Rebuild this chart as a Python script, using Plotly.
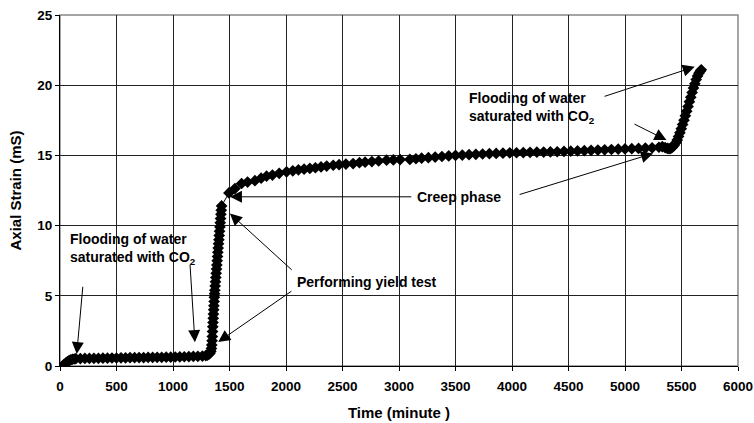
import plotly.graph_objects as go

# Time (minute) and Axial strain (mS)
time_min = [
    20, 35, 50, 65, 80, 95, 110, 125,
    140, 180, 220, 260, 300, 340, 380, 420, 460, 500, 540, 580, 620, 660, 700,
    740, 780, 820, 860, 900, 940, 980, 1020, 1060, 1100, 1140, 1180, 1220, 1260,
    1290, 1305, 1318, 1328, 1335, 1340, 1343, 1346, 1348, 1350, 1352, 1354, 1356,
    1358, 1360, 1362, 1364, 1366, 1368, 1370, 1373, 1376, 1379, 1382, 1385, 1388,
    1391, 1394, 1397, 1400, 1403, 1406, 1409, 1412, 1415, 1418, 1421, 1424, 1427,
    1430,
    1495, 1548, 1607, 1660, 1725, 1780, 1828, 1880, 1940, 2005, 2060, 2110, 2160,
    2211, 2260, 2310, 2360, 2418, 2470, 2530, 2594, 2650, 2700, 2760, 2820, 2890,
    2950, 3010, 3096, 3150, 3200, 3260, 3320, 3380, 3440, 3500, 3560, 3620, 3680,
    3740, 3800, 3860, 3920, 3980, 4040, 4100, 4160, 4220, 4280, 4340, 4400, 4460,
    4520, 4580, 4640, 4700, 4760, 4820, 4880, 4940, 5000, 5060, 5120, 5180, 5240,
    5300, 5330, 5355, 5375, 5390, 5405, 5420, 5435, 5450, 5462, 5474, 5486, 5498,
    5510, 5522, 5534, 5546, 5558, 5570, 5582, 5594, 5606, 5618, 5630, 5642, 5654,
    5666, 5675,
]
strain_mS = [
    0.00, 0.10, 0.20, 0.30, 0.38, 0.44, 0.48, 0.50,
    0.52, 0.53, 0.54, 0.54, 0.55, 0.55, 0.56, 0.56, 0.57, 0.57, 0.58, 0.58, 0.59, 0.59, 0.60,
    0.60, 0.61, 0.61, 0.62, 0.62, 0.63, 0.63, 0.64, 0.65, 0.66, 0.67, 0.68, 0.69, 0.71,
    0.74, 0.78, 0.84, 0.92, 1.05, 1.25, 1.50, 1.80, 2.10, 2.45, 2.80, 3.10, 3.40,
    3.70, 4.00, 4.30, 4.60, 4.90, 5.15, 5.40, 5.70, 6.00, 6.30, 6.60, 6.90, 7.20,
    7.50, 7.80, 8.10, 8.40, 8.70, 9.00, 9.30, 9.60, 9.90, 10.20, 10.50, 10.80, 11.10,
    11.40,
    12.33, 12.64, 13.00, 13.10, 13.20, 13.38, 13.52, 13.60, 13.72, 13.83, 13.90, 13.97, 14.02,
    14.07, 14.12, 14.18, 14.24, 14.30, 14.34, 14.38, 14.42, 14.48, 14.52, 14.56, 14.60, 14.66,
    14.68, 14.70, 14.71, 14.76, 14.80, 14.84, 14.88, 14.92, 14.96, 15.00, 15.02, 15.05, 15.08,
    15.10, 15.12, 15.14, 15.16, 15.18, 15.19, 15.20, 15.22, 15.23, 15.24, 15.25, 15.26, 15.28,
    15.30, 15.32, 15.34, 15.36, 15.38, 15.40, 15.42, 15.44, 15.46, 15.48, 15.50, 15.52, 15.54,
    15.58, 15.62, 15.56, 15.50, 15.48, 15.50, 15.58, 15.72, 15.90, 16.10, 16.35, 16.62, 16.90,
    17.20, 17.50, 17.82, 18.15, 18.48, 18.82, 19.15, 19.48, 19.80, 20.10, 20.40, 20.65, 20.85,
    21.00, 21.10,
]

x_ticks = [0, 500, 1000, 1500, 2000, 2500, 3000, 3500, 4000, 4500, 5000, 5500, 6000]
y_ticks = [0, 5, 10, 15, 20, 25]

FONT = "Liberation Sans"

fig = go.Figure()
fig.add_trace(go.Scatter(
    x=time_min, y=strain_mS, mode="lines+markers",
    line=dict(color="black", width=1),
    marker=dict(symbol="diamond", size=9, color="black"),
    showlegend=False, hoverinfo="skip",
))

# text labels
labels = [
    dict(x=75, y=8.32, text="<b>Flooding of water<br>saturated with CO<sub>2</sub></b>"),
    dict(x=2080, y=5.99, text="<b>Performing yield test</b>"),
    dict(x=3140, y=12.02, text="<b>Creep phase</b>"),
    dict(x=3600, y=18.36, text="<b>Flooding of water<br>saturated with CO<sub>2</sub></b>"),
]
for lb in labels:
    fig.add_annotation(x=lb["x"], y=lb["y"], text=lb["text"], showarrow=False,
                       xanchor="left", yanchor="middle", align="left",
                       font=dict(family=FONT, size=14, color="black"))

# arrows: (tail_x, tail_y, tip_x, tip_y)
arrows = [
    (203, 5.75, 148, 0.85),
    (1150, 7.32, 1194, 1.70),
    (2064, 6.75, 1504, 10.86),
    (2061, 5.40, 1400, 1.71),
    (3122, 12.05, 1504, 12.05),
    (4054, 12.18, 5248, 15.14),
    (4806, 19.17, 5617, 21.31),
    (5071, 17.28, 5367, 16.09),
]
for tx, ty, hx, hy in arrows:
    fig.add_annotation(x=hx, y=hy, ax=tx, ay=ty, xref="x", yref="y",
                       axref="x", ayref="y", text="", showarrow=True,
                       arrowhead=2, arrowsize=2.4, arrowwidth=1, arrowcolor="black",
                       standoff=0, startstandoff=0)

fig.update_layout(
    width=754, height=423,
    margin=dict(l=60, r=16, t=15, b=57),
    paper_bgcolor="white", plot_bgcolor="white",
    font=dict(family=FONT, size=13, color="black"),
)
fig.update_xaxes(
    range=[0, 6000], tickvals=x_ticks, ticktext=[f"<b>{v}</b>" for v in x_ticks],
    showgrid=True, gridcolor="#222", gridwidth=1,
    showline=True, linecolor="black", linewidth=1, mirror=False,
    ticks="outside", ticklen=4, tickcolor="black",
    tickfont=dict(family=FONT, size=13.5), ticklabelstandoff=4,
    title=dict(text="<b>Time (minute )</b>", font=dict(family=FONT, size=15), standoff=14),
    zeroline=False, automargin=False,
)
fig.update_yaxes(
    range=[0, 25], tickvals=y_ticks, ticktext=[f"<b>{v}</b>" for v in y_ticks],
    showgrid=True, gridcolor="#222", gridwidth=1,
    showline=True, linecolor="black", linewidth=1,
    ticks="outside", ticklen=4, tickcolor="black",
    tickfont=dict(family=FONT, size=13.5),
    title=dict(text="<b>Axial Strain (mS)</b>", font=dict(family=FONT, size=15), standoff=12),
    zeroline=False, automargin=False,
)
# gray plot border on top/right
fig.add_shape(type="rect", xref="paper", yref="paper", x0=0, y0=0, x1=1, y1=1,
              line=dict(color="#888", width=1.5), layer="below")

fig.write_html("out.html")
